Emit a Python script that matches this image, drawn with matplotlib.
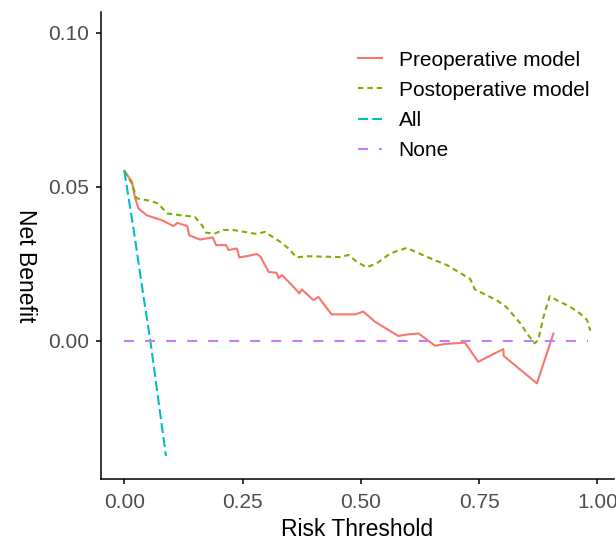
import matplotlib
matplotlib.use("Agg")
import matplotlib.pyplot as plt

plt.rcParams['font.family'] = ['Liberation Sans', 'DejaVu Sans']

# decision curve values
pre_x = [0.000, 0.016, 0.023, 0.030, 0.047, 0.079, 0.104, 0.112, 0.133, 0.137,
         0.160, 0.187, 0.194, 0.215, 0.220, 0.238, 0.243, 0.259, 0.280, 0.288,
         0.305, 0.322, 0.326, 0.333, 0.340, 0.364, 0.370, 0.375, 0.400, 0.410,
         0.438, 0.488, 0.505, 0.530, 0.579, 0.600, 0.622, 0.657, 0.678, 0.720,
         0.748, 0.780, 0.801, 0.802, 0.872, 0.907]
pre_y = [0.0552, 0.0517, 0.0463, 0.0430, 0.0408, 0.0392, 0.0373, 0.0383, 0.0373, 0.0343,
         0.0329, 0.0336, 0.0311, 0.0311, 0.0295, 0.0300, 0.0271, 0.0275, 0.0282, 0.0273,
         0.0224, 0.0221, 0.0203, 0.0214, 0.0203, 0.0165, 0.0154, 0.0167, 0.0132, 0.0143,
         0.0086, 0.0086, 0.0095, 0.0062, 0.0016, 0.0021, 0.0024, -0.0016, -0.0010, -0.0006,
         -0.0068, -0.0043, -0.0027, -0.0049, -0.0138, 0.0024]

post_x = [0.000, 0.016, 0.026, 0.054, 0.072, 0.090, 0.118, 0.149, 0.164, 0.173,
          0.192, 0.209, 0.230, 0.280, 0.297, 0.329, 0.347, 0.364, 0.386, 0.456,
          0.474, 0.491, 0.512, 0.534, 0.562, 0.597, 0.639, 0.682, 0.731, 0.741,
          0.787, 0.808, 0.837, 0.851, 0.867, 0.875, 0.886, 0.899, 0.914, 0.942,
          0.963, 0.978, 0.985]
post_y = [0.0552, 0.0511, 0.0463, 0.0455, 0.0446, 0.0414, 0.0408, 0.0403, 0.0376, 0.0351,
          0.0349, 0.0360, 0.0360, 0.0347, 0.0354, 0.0322, 0.0300, 0.0271, 0.0275, 0.0272,
          0.0279, 0.0257, 0.0239, 0.0252, 0.0284, 0.0302, 0.0273, 0.0246, 0.0201, 0.0167,
          0.0132, 0.0109, 0.0057, 0.0024, -0.0008, 0.0003, 0.0078, 0.0145, 0.0132, 0.0111,
          0.0089, 0.0068, 0.0033]

all_x = [0.000, 0.020, 0.040, 0.055, 0.070, 0.088]
all_y = [0.0552, 0.0358, 0.0150, 0.0000, -0.0170, -0.0374]

none_x = [0.000, 0.980]
none_y = [0.0, 0.0]

x_ticks = [0.00, 0.25, 0.50, 0.75, 1.00]
y_ticks = [0.00, 0.05, 0.10]

fig = plt.figure(figsize=(6.16, 5.42), dpi=100)
ax = fig.add_axes([101 / 616, 1 - 478.5 / 542, 513 / 616, 466.5 / 542])

lw = 1.5
ax.plot(pre_x, pre_y, color='#F8766D', lw=lw, label='Preoperative model')
ax.plot(post_x, post_y, color='#7CAE00', lw=lw, dashes=(2.6, 1.9), label='Postoperative model')
ax.plot(all_x, all_y, color='#00BFC4', lw=lw, dashes=(4.8, 2), label='All')
ax.plot(none_x, none_y, color='#C77CFF', lw=lw, dashes=(4.8, 5.3), label='None')

ax.set_xlim(-0.0493, 1.035)
ax.set_ylim(-0.0447, 0.1068)
ax.set_xticks(x_ticks)
ax.set_xticklabels(['%.2f' % v for v in x_ticks])
ax.set_yticks(y_ticks)
ax.set_yticklabels(['%.2f' % v for v in y_ticks])

for side in ['top', 'right']:
    ax.spines[side].set_visible(False)
for side in ['left', 'bottom']:
    ax.spines[side].set_linewidth(1.1)
ax.tick_params(length=3.6, width=1.1, labelsize=15, labelcolor='#4D4D4D', pad=5)
ax.tick_params(axis='x', pad=7)

ax.set_xlabel('Risk Threshold', fontsize=16.5, labelpad=4)
fig.text(25 / 616, 1 - 266 / 542, 'Net Benefit', rotation=270, fontsize=16.5,
         ha='center', va='center')

ax.legend(loc='upper left', bbox_to_anchor=(358 / 616, 1 - 50.5 / 542),
          bbox_transform=fig.transFigure, frameon=False, fontsize=15,
          handlelength=1.15, handletextpad=0.8, labelspacing=0.54,
          borderpad=0, borderaxespad=0)

fig.savefig('out.png', dpi=100)
